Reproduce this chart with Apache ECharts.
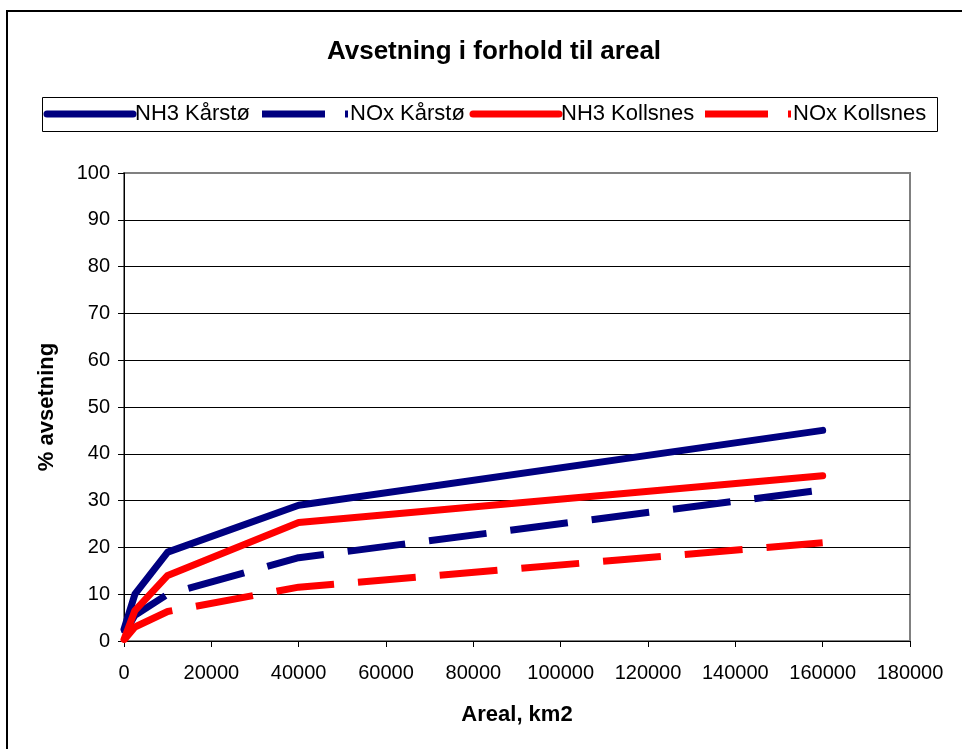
<!DOCTYPE html>
<html>
<head>
<meta charset="utf-8">
<script src="https://cdn.jsdelivr.net/npm/echarts@6/dist/echarts.min.js"></script>
<style>
html,body{margin:0;padding:0;background:#fff;}
#chart{width:962px;height:749px;}
</style>
</head>
<body>
<div id="chart"></div>
<script>
const titleText = 'Avsetning i forhold til areal';
const xAxisName = 'Areal, km2';
const yAxisName = '% avsetning';
const areal = [0, 2500, 10000, 40000, 160000];
const seriesNames = ['NH3 Kårstø', 'NOx Kårstø', 'NH3 Kollsnes', 'NOx Kollsnes'];
const nh3Karsto = [2.5, 10, 19, 29, 45];
const noxKarsto = [1.5, 5.5, 10, 17.8, 32.3];
const nh3Kollsnes = [0.3, 6.5, 14, 25.3, 35.3];
const noxKollsnes = [0.2, 3, 6.3, 11.5, 21];

const font = '"Liberation Sans", Arial, sans-serif';
const navy = '#000080';
const red = '#FF0000';
const dash = [58, 24];
const colors = [navy, navy, red, red];
const dashed = [false, true, false, true];

function pairs(vals) { return areal.map((x, i) => [x, vals[i]]); }

function mkSeries(name, vals, color, isDashed) {
  return {
    name: name, type: 'line', data: pairs(vals),
    showSymbol: false, symbol: 'none', smooth: false,
    lineStyle: { color: color, width: 7, type: isDashed ? dash : 'solid', cap: isDashed ? 'butt' : 'round', join: 'round' },
    itemStyle: { color: color },
    emphasis: { disabled: true }, animation: false
  };
}

// legend drawn as graphics (sample line + label)
const legendIconLefts = [47, 262, 473, 705];
const legendGraphics = [];
seriesNames.forEach((n, i) => {
  const x0 = legendIconLefts[i];
  legendGraphics.push({
    type: 'line', shape: { x1: x0, y1: 114, x2: x0 + 86, y2: 114 },
    style: { stroke: colors[i], lineWidth: 7, lineCap: dashed[i] ? 'butt' : 'round', lineDash: dashed[i] ? [63, 20] : null },
    z: 101, silent: true
  });
  legendGraphics.push({
    type: 'text', left: x0 + 88, top: 103,
    style: { text: n, fontFamily: font, fontSize: 22, fill: '#000' },
    z: 101, silent: true
  });
});

const chart = echarts.init(document.getElementById('chart'), null, { renderer: 'canvas' });
chart.setOption({
  backgroundColor: '#fff',
  animation: false,
  title: {
    text: titleText, left: 489, top: 34, textAlign: 'center',
    textStyle: { fontFamily: font, fontSize: 26, fontWeight: 'bold', color: '#000' }
  },
  graphic: [
    { type: 'rect', shape: { x: 7, y: 11, width: 1000, height: 800 }, style: { fill: null, stroke: '#000', lineWidth: 2 }, z: 100, silent: true },
    { type: 'rect', shape: { x: 42.5, y: 97.5, width: 895, height: 34 }, style: { fill: null, stroke: '#000', lineWidth: 1 }, z: 100, silent: true }
  ].concat(legendGraphics),
  grid: { left: 124, top: 173, right: 52, bottom: 108, show: true, borderColor: '#808080', borderWidth: 2, backgroundColor: '#fff', containLabel: false },
  xAxis: {
    type: 'value', min: 0, max: 180000, interval: 20000,
    name: xAxisName, nameLocation: 'middle', nameGap: 63,
    nameTextStyle: { fontFamily: font, fontSize: 22, fontWeight: 'bold', color: '#000' },
    axisLine: { show: true, onZero: false, lineStyle: { color: '#000', width: 1 } },
    axisTick: { show: true, inside: false, length: 6, lineStyle: { color: '#000' } },
    axisLabel: { fontFamily: font, fontSize: 20, color: '#000', margin: 22, formatter: v => String(v) },
    splitLine: { show: false }
  },
  yAxis: {
    type: 'value', min: 0, max: 100, interval: 10,
    name: yAxisName, nameLocation: 'middle', nameGap: 66, nameRotate: 90,
    nameTextStyle: { fontFamily: font, fontSize: 22, fontWeight: 'bold', color: '#000' },
    axisLine: { show: true, onZero: false, lineStyle: { color: '#000', width: 1 } },
    axisTick: { show: true, inside: false, length: 6, lineStyle: { color: '#000' } },
    axisLabel: { fontFamily: font, fontSize: 20, color: '#000', margin: 14 },
    splitLine: { show: true, showMinLine: false, showMaxLine: false, lineStyle: { color: '#000', width: 1 } }
  },
  series: [
    mkSeries(seriesNames[0], nh3Karsto, navy, false),
    mkSeries(seriesNames[1], noxKarsto, navy, true),
    mkSeries(seriesNames[2], nh3Kollsnes, red, false),
    mkSeries(seriesNames[3], noxKollsnes, red, true)
  ]
});
</script>
</body>
</html>
